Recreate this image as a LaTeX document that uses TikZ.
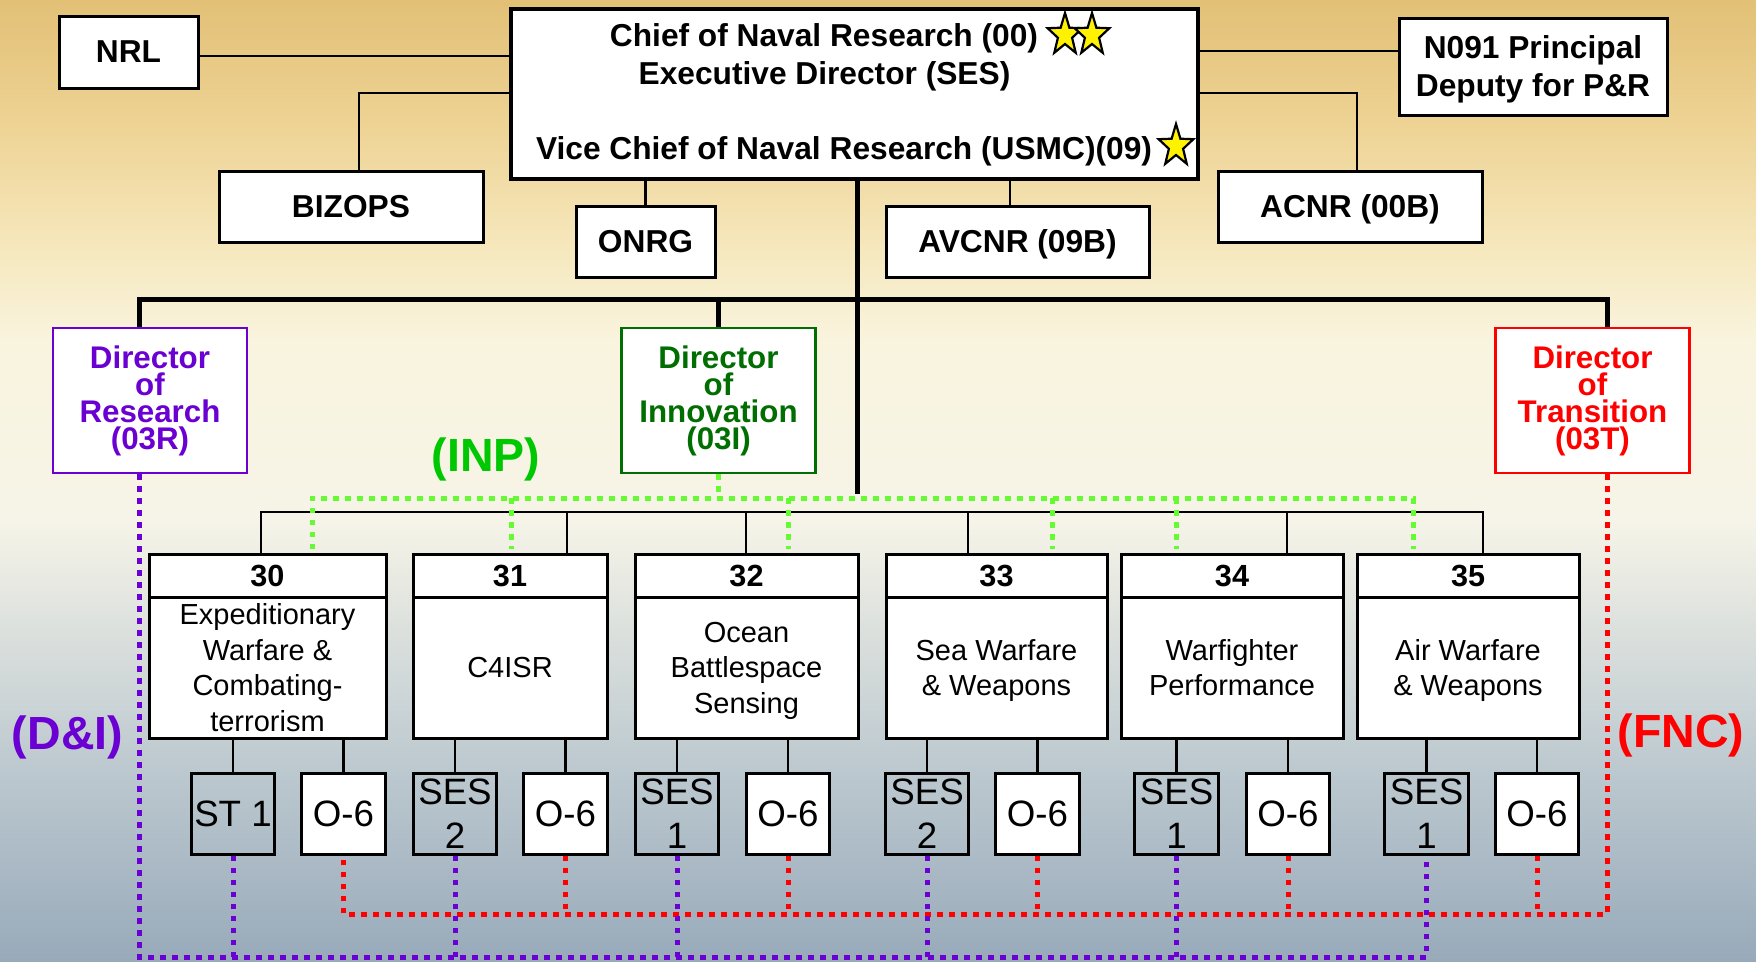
\documentclass[tikz,border=0pt]{standalone}
\usepackage{fontspec}
\setmainfont{Liberation Sans}
\usetikzlibrary{calc}
\pgfdeclarelayer{bg}
\pgfdeclarelayer{conn}
\pgfsetlayers{bg,conn,main}
\definecolor{purp}{RGB}{106,0,210}
\definecolor{dgreen}{RGB}{0,110,0}
\definecolor{igreen}{RGB}{0,200,0}
\definecolor{lgreen}{RGB}{102,250,51}
\definecolor{fred}{RGB}{255,0,0}
\definecolor{bgA}{RGB}{226,192,118}
\definecolor{bgB}{RGB}{238,212,150}
\definecolor{bgC}{RGB}{246,232,190}
\definecolor{bgD}{RGB}{249,244,222}
\definecolor{bgE}{RGB}{246,244,232}
\definecolor{bgF}{RGB}{222,226,222}
\definecolor{bgG}{RGB}{190,202,208}
\definecolor{bgH}{RGB}{152,170,186}
\newcommand\fTop{\fontsize{31.7pt}{38pt}\selectfont\bfseries}
\newcommand\fDir{\fontsize{31.3pt}{27pt}\selectfont\bfseries}
\newcommand\fNum{\fontsize{30.6pt}{36pt}\selectfont\bfseries}
\newcommand\fBody{\fontsize{29pt}{35.6pt}\selectfont}
\newcommand\fSmall{\fontsize{36.7pt}{44pt}\selectfont}
\newcommand\fLab{\fontsize{46.5pt}{50pt}\selectfont\bfseries}
\newcommand\navstar[2]{\draw[starline,shift={(#1,#2)},xscale=0.83] (-90:22) -- (-54:9) -- (-18:22) -- (18:9) -- (54:22) -- (90:9) -- (126:22) -- (162:9) -- (198:22) -- (234:9) -- cycle;}
\begin{document}
\begin{tikzpicture}[x=1pt,y=-1pt,
  conn/.style={line width=2.5pt},
  thickconn/.style={line width=5pt},
  topbox/.style={draw, fill=white, line width=3pt, inner sep=0pt, align=center, font=\fTop, text depth=0pt},
  dirbox/.style={draw=#1, text=#1, fill=white, line width=2.5pt, inner sep=0pt, align=center, font=\fDir, minimum width=194pt, minimum height=145pt},
  headbox/.style={draw, fill=white, line width=3pt, inner sep=0pt, font=\fNum, minimum height=43pt},
  bodybox/.style={draw, fill=white, line width=3pt, inner sep=0pt, align=center, font=\fBody, minimum height=141pt, text depth=0pt},
  sesbox/.style={draw, line width=3pt, inner sep=0pt, align=center, font=\fSmall, minimum width=83.5pt, minimum height=81pt},
  obox/.style={sesbox, fill=white},
  starline/.style={draw=black, fill=yellow, line width=2.2pt, line join=miter},
  gdots/.style={draw=lgreen, line width=5pt, dash pattern=on 5.5pt off 6.5pt},
  pdots/.style={draw=purp, line width=5pt, dash pattern=on 5.5pt off 6.5pt},
  rdots/.style={draw=fred, line width=5pt, dash pattern=on 5.5pt off 6.5pt},
  lab/.style={font=\fLab, inner sep=0pt}]
\useasboundingbox (0,0) rectangle (1756,961);
\begin{pgfonlayer}{bg}
\shade[top color=bgA, bottom color=bgB] (0,0) rectangle (1756,131);
\shade[top color=bgB, bottom color=bgC] (0,130) rectangle (1756,251);
\shade[top color=bgC, bottom color=bgD] (0,250) rectangle (1756,341);
\shade[top color=bgD, bottom color=bgE] (0,340) rectangle (1756,521);
\shade[top color=bgE, bottom color=bgF] (0,520) rectangle (1756,621);
\shade[top color=bgF, bottom color=bgG] (0,620) rectangle (1756,761);
\shade[top color=bgG, bottom color=bgH] (0,760) rectangle (1756,961);
\end{pgfonlayer}

% top level
\node[topbox, line width=4.5pt, minimum width=687pt, minimum height=170pt] (cnr) at (854.5,94) {};
\node[anchor=base, font=\fTop, inner sep=0pt] (cnr1) at (824,46.5) {Chief of Naval Research (00)};
\node[anchor=base, font=\fTop, inner sep=0pt] (cnr2) at (824.5,84.5) {Executive Director (SES)};
\node[anchor=base, font=\fTop, inner sep=0pt] (cnr3) at (844,159) {Vice Chief of Naval Research (USMC)(09)};
\navstar{1065}{35}
\navstar{1092}{35}
\navstar{1176}{146}

\node[topbox, minimum width=139pt, minimum height=72pt] (nrl) at (128.5,52) {NRL};
\node[topbox, minimum width=264pt, minimum height=71pt] (bizops) at (351,206.5) {BIZOPS};
\node[topbox, minimum width=139pt, minimum height=71pt] (onrg) at (645.5,241.5) {ONRG};
\node[topbox, minimum width=268pt, minimum height=97pt] (n091) at (1533,66.5) {N091 Principal\\[0pt]Deputy for P\&R};
\node[topbox, minimum width=264pt, minimum height=71pt] (acnr) at (1350,206.5) {ACNR (00B)};
\node[topbox, minimum width=263pt, minimum height=71pt] (avcnr) at (1017.5,241.5) {AVCNR (09B)};

% directors
\node[dirbox=purp] (dr) at (150,400.5) {Director\\of\\Research\\(03R)};
\node[dirbox=dgreen] (di) at (718.5,400.5) {Director\\of\\Innovation\\(03I)};
\node[dirbox=fred] (dt) at (1592.5,400.5) {Director\\of\\Transition\\(03T)};

\node[lab, text=igreen] (inp) at (486,459.5) {(INP)};
\node[lab, text=purp] (dilab) at (67.5,737) {(D\&I)};
\node[lab, text=fred] (fnc) at (1681,735) {(FNC)};

% divisions
\node[headbox, minimum width=237pt] (h30) at (267.5,575.5) {30};
\node[bodybox, minimum width=237pt] (b30) at (267.5,667.5) {Expeditionary\\Warfare \&\\Combating-\\terrorism};
\node[headbox, minimum width=194pt] (h31) at (510,575.5) {31};
\node[bodybox, minimum width=194pt] (b31) at (510,667.5) {C4ISR};
\node[headbox, minimum width=223pt] (h32) at (746.5,575.5) {32};
\node[bodybox, minimum width=223pt] (b32) at (746.5,667.5) {Ocean\\Battlespace\\Sensing};
\node[headbox, minimum width=221pt] (h33) at (996.5,575.5) {33};
\node[bodybox, minimum width=221pt] (b33) at (996.5,667.5) {Sea Warfare\\\& Weapons};
\node[headbox, minimum width=222pt] (h34) at (1232,575.5) {34};
\node[bodybox, minimum width=222pt] (b34) at (1232,667.5) {Warfighter\\Performance};
\node[headbox, minimum width=222pt] (h35) at (1468,575.5) {35};
\node[bodybox, minimum width=222pt] (b35) at (1468,667.5) {Air Warfare\\\& Weapons};

% grades
\node[sesbox] (st30) at (233,813.5) {ST 1};
\node[obox] (o30) at (343.5,813.5) {O-6};
\node[sesbox] (ses31) at (455,813.5) {SES\\2};
\node[obox] (o31) at (565.5,813.5) {O-6};
\node[sesbox] (ses32) at (677,813.5) {SES\\1};
\node[obox] (o32) at (788,813.5) {O-6};
\node[sesbox] (ses33) at (927,813.5) {SES\\2};
\node[obox] (o33) at (1037.5,813.5) {O-6};
\node[sesbox] (ses34) at (1176.5,813.5) {SES\\1};
\node[obox] (o34) at (1288,813.5) {O-6};
\node[sesbox] (ses35) at (1426.5,813.5) {SES\\1};
\node[obox] (o35) at (1537,813.5) {O-6};

\begin{pgfonlayer}{conn}
% top connectors
\coordinate (jn1) at (0,56);
\draw[conn] (nrl.east |- jn1) -- (cnr.west |- jn1);
\coordinate (jb) at (359,93);
\draw[conn] (cnr.west |- jb) -- (jb) -- (jb |- bizops.north);
\draw[conn] (onrg.north) -- (onrg.north |- cnr.south);
\coordinate (jp) at (0,51);
\draw[conn] (cnr.east |- jp) -- (n091.west |- jp);
\coordinate (ja) at (1357,93);
\draw[conn] (cnr.east |- ja) -- (ja) -- (ja |- acnr.north);
\coordinate (jv) at (1010,0);
\draw[conn] (jv |- cnr.south) -- (jv |- avcnr.north);
% trunk
\coordinate (jm) at (857,494);
\draw[thickconn] (jm |- cnr.south) -- (jm);
\coordinate (hl) at (139,299);
\coordinate (hm) at (718,299);
\coordinate (hr) at (1607,299);
\draw[thickconn] (hl |- dr.north) -- (hl) -- (hr) -- (hr |- dt.north);
\draw[thickconn] (hm) -- (hm |- di.north);
% division bus
\coordinate (c30) at (261,512);
\coordinate (c31) at (567,512);
\coordinate (c32) at (746,512);
\coordinate (c33) at (968,512);
\coordinate (c34) at (1287,512);
\coordinate (c35) at (1483,512);
\draw[conn] (c30 |- h30.north) -- (c30) -- (c35) -- (c35 |- h35.north);
\foreach \i in {31,32,33,34} \draw[conn] (c\i) -- (c\i |- h\i.north);
% grade links
\foreach \n in {st30,o30,ses31,o31,ses32,o32,ses33,o33,ses34,o34,ses35,o35}
  \draw[conn] (\n.north) -- (\n.north |- b30.south);
% INP green
\coordinate (g0) at (312,498);
\coordinate (g1) at (511,498);
\coordinate (g2) at (788,498);
\coordinate (g3) at (1052,498);
\coordinate (g4) at (1176,498);
\coordinate (g5) at (1413,498);
\coordinate (gb) at (0,549);
\draw[gdots] (di.south) -- (di.south |- g0);
\draw[gdots] (g0 |- gb) -- (g0) -- (g5) -- (g5 |- gb);
\foreach \i in {1,2,3,4} \draw[gdots] (g\i) -- (g\i |- gb);
% FNC red
\coordinate (pr) at (1607,914);
\draw[rdots] (pr |- dt.south) -- (pr) -- (o30.south |- pr) -- (o30.south);
\foreach \n in {o31,o32,o33,o34,o35} \draw[rdots] (\n.south) -- (\n.south |- pr);
% D&I purple
\coordinate (pl) at (139,957);
\draw[pdots] (pl |- dr.south) -- (pl) -- (ses35.south |- pl) -- (ses35.south);
\foreach \n in {st30,ses31,ses32,ses33,ses34} \draw[pdots] (\n.south) -- (\n.south |- pl);
\end{pgfonlayer}
\end{tikzpicture}
\end{document}
